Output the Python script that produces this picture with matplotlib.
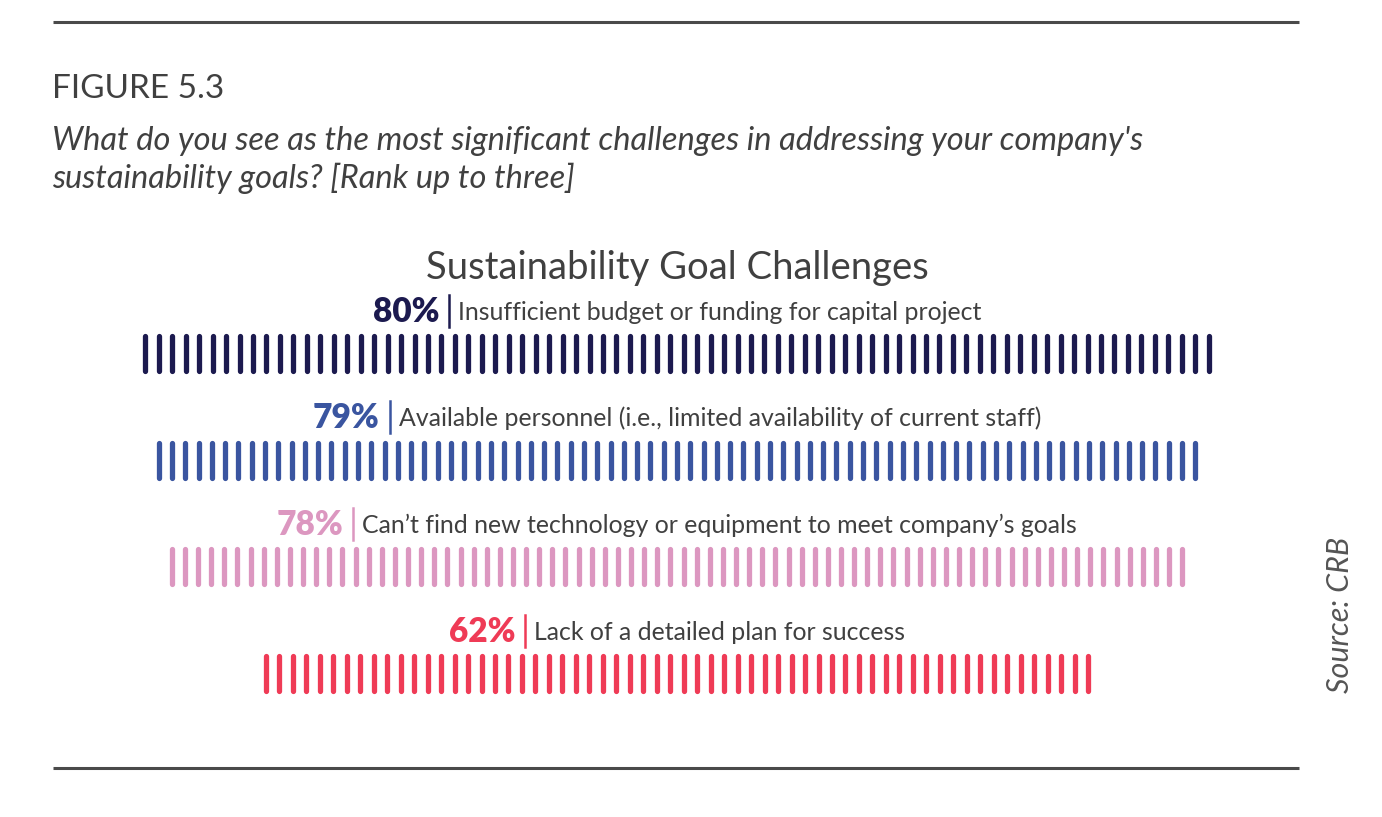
import matplotlib
matplotlib.use("Agg")
import matplotlib.pyplot as plt

# data: one tick per percentage point
values = [80, 79, 78, 62]
labels = ["Insufficient budget or funding for capital project",
          "Available personnel (i.e., limited availability of current staff)",
          "Can\u2019t find new technology or equipment to meet company\u2019s goals",
          "Lack of a detailed plan for success"]
colors = ["#1c1a4f", "#3a55a0", "#dc97c0", "#ef3b56"]

title = "Sustainability Goal Challenges"
fig_label = "FIGURE 5.3"
question = ("What do you see as the most significant challenges in addressing your company's\n"
            "sustainability goals? [Rank up to three]")
source = "Source: CRB"

plt.rcParams['font.family'] = ['Lato', 'DejaVu Sans']
grey = "#404040"

fig = plt.figure(figsize=(13.82, 8.17), dpi=100)
ax = fig.add_axes([0, 0, 1, 1])
ax.set_xlim(0, 1382)
ax.set_ylim(817, 0)
ax.axis("off")

# frame lines and header
ax.plot([53, 1299], [22, 22], color="#4a4a4a", lw=2.2, solid_capstyle="butt")
ax.plot([53, 1299], [768, 768], color="#4a4a4a", lw=2.2, solid_capstyle="butt")
ax.text(52, 89, fig_label, fontsize=24, color=grey, va="center", ha="left")
ax.text(52, 160, question, fontsize=23.5, color=grey, style="italic",
        va="center", ha="left", linespacing=1.3)
ax.text(1340, 615, source, fontsize=22, color="#555555", style="italic",
        rotation=90, va="center", ha="center")
ax.text(677, 268, title, fontsize=27.5, color=grey, va="center", ha="center")

center = 677
# tick pitch per row (pixels)
spacing = [13.46, 13.29, 13.12, 13.48]
row_top = [333, 440, 546, 653]
tick_h = 40
label_y = [312, 418, 525, 632]

fig.canvas.draw()
renderer = fig.canvas.get_renderer()

for v, lab, c, sp, y0, ly in zip(values, labels, colors, spacing, row_top, label_y):
    xs = [center + (i - (v - 1) / 2) * sp for i in range(v)]
    lc = ax.vlines(xs, y0 + 2.5, y0 + tick_h - 2.5, color=c, lw=3.8)
    lc.set_capstyle("round")

    t_pct = ax.text(0, ly, f"{v}%", fontsize=24, fontweight="heavy", color=c,
                    va="center", ha="left")
    t_lab = ax.text(0, ly, lab, fontsize=17.9, color=grey, va="center", ha="left")
    w_pct = t_pct.get_window_extent(renderer).width
    w_lab = t_lab.get_window_extent(renderer).width
    gap1, gap2 = 10, 7
    total = w_pct + gap1 + 2 + gap2 + w_lab
    x0 = center - total / 2
    t_pct.set_x(x0)
    bar_x = x0 + w_pct + gap1
    ax.plot([bar_x, bar_x], [ly - 17, ly + 15], color=c, lw=1.8)
    t_lab.set_x(bar_x + gap2 + 2)

fig.savefig("out.png", dpi=100)
